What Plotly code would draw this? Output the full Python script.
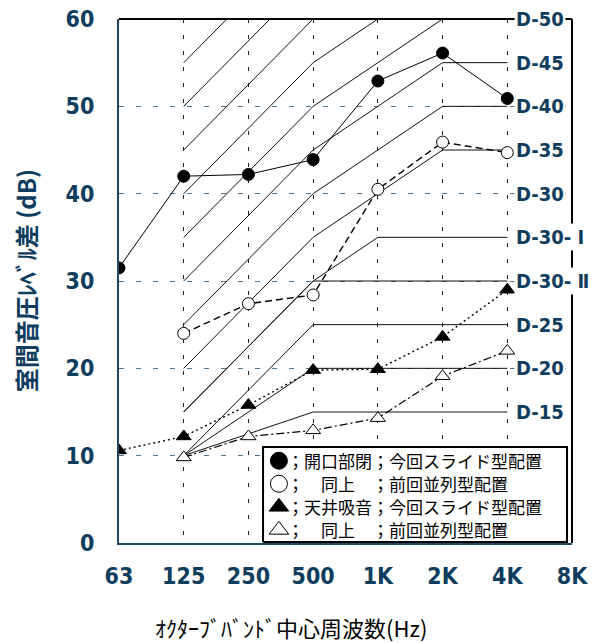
import plotly.graph_objects as go

# Octave-band centre frequencies (category positions 0..7)
FREQ_LABELS = ["63", "125", "250", "500", "1K", "2K", "4K", "8K"]
FREQ_POS = list(range(len(FREQ_LABELS)))

# Measured room-to-room level differences (dB)
open_slide_pos = [0, 1, 2, 3, 4, 5, 6]
open_slide = [31.5, 42.0, 42.2, 43.9, 52.9, 56.1, 50.9]
open_parallel_pos = [1, 2, 3, 4, 5, 6]
open_parallel = [24.0, 27.4, 28.4, 40.5, 45.9, 44.7]
absorb_slide_pos = [0, 1, 2, 3, 4, 5, 6]
absorb_slide = [10.6, 12.2, 15.8, 19.8, 19.9, 23.6, 29.0]
absorb_parallel_pos = [1, 2, 3, 4, 5, 6]
absorb_parallel = [9.8, 12.2, 12.9, 14.3, 19.1, 22.0]

# D rating reference curves: levels at 125, 500, 1K, 2K, 4K
REF_POS = [1, 3, 4, 5, 6]
D70 = [55, 70, 75, 80, 80]
D65 = [50, 65, 70, 75, 75]
D60 = [45, 60, 65, 70, 70]
D55 = [40, 55, 60, 65, 65]
D50 = [35, 50, 55, 60, 60]
D45 = [30, 45, 50, 55, 55]
D40 = [25, 40, 45, 50, 50]
D35 = [20, 35, 40, 45, 45]
D30_I = [15, 30, 35, 35, 35]
D30_II = [15, 30, 30, 30, 30]
D25 = [10, 25, 25, 25, 25]
D20 = [10, 20, 20, 20, 20]
D15 = [10, 15, 15, 15, 15]
REF_CURVES = [D70, D65, D60, D55, D50, D45, D40, D35, D30_I, D30_II, D25, D20, D15]

D_LABELS = ["D-50", "D-45", "D-40", "D-35", "D-30", "D-30- Ⅰ", "D-30- Ⅱ", "D-25", "D-20", "D-15"]
D_LABEL_LEVELS = [60, 55, 50, 45, 40, 35, 30, 25, 20, 15]

LEGEND_TEXT = [
    "；開口部閉；今回スライド型配置",
    "；　同上　；前回並列型配置",
    "；天井吸音；今回スライド型配置",
    "；　同上　；前回並列型配置",
]
# legend box layout, as fractions of the plot area
LEGEND_BOX_X = [0.318, 0.989, 0.989, 0.318, 0.318]
LEGEND_BOX_Y = [0.002, 0.002, 0.183, 0.183, 0.002]
LEGEND_ROW_Y = [0.157, 0.113, 0.069, 0.025]
LEGEND_MARK_X = 0.353
LEGEND_TEXT_X = 0.369

NAVY = "#0f3d5e"
NUM_FONT = "Liberation Sans Narrow, DejaVu Sans Condensed, sans-serif"
JP_FONT = "Noto Sans CJK JP, sans-serif"

fig = go.Figure()

for curve in REF_CURVES:
    fig.add_trace(go.Scatter(
        x=REF_POS, y=curve, mode="lines",
        line=dict(color="#111111", width=1),
        showlegend=False, hoverinfo="skip",
    ))

series = [
    (open_slide_pos, open_slide, "circle", "black", dict(dash="solid", width=1)),
    (open_parallel_pos, open_parallel, "circle", "white", dict(dash="7px,4px", width=1.4)),
    (absorb_slide_pos, absorb_slide, "triangle-up", "black", dict(dash="2px,3px", width=1.4)),
    (absorb_parallel_pos, absorb_parallel, "triangle-up", "white", dict(dash="8px,3px,2px,3px", width=1.2)),
]

for (xs, ys, sym, fill, ln) in series:
    fig.add_trace(go.Scatter(
        x=xs, y=ys, mode="lines+markers",
        line=dict(color="black", **ln),
        marker=dict(symbol=sym, size=13 if "triangle" in sym else 12,
                    color=fill, line=dict(color="black", width=1)),
        showlegend=False,
    ))

# legend box and keys on an overlay frame spanning the plot area (0..1)
fig.add_trace(go.Scatter(
    x=LEGEND_BOX_X, y=LEGEND_BOX_Y, xaxis="x2", yaxis="y2", mode="lines",
    fill="toself", fillcolor="white", line=dict(color="black", width=2),
    showlegend=False, hoverinfo="skip",
))
for (xs, ys, sym, fill, ln), ry in zip(series, LEGEND_ROW_Y):
    fig.add_trace(go.Scatter(
        x=[LEGEND_MARK_X], y=[ry], xaxis="x2", yaxis="y2", mode="markers",
        marker=dict(symbol=sym, size=17, color=fill, line=dict(color="black", width=1)),
        showlegend=False, hoverinfo="skip",
    ))

annotations = []
for txt, lvl in zip(D_LABELS, D_LABEL_LEVELS):
    annotations.append(dict(
        x=6, y=lvl, xref="x", yref="y", text=txt, showarrow=False,
        xanchor="left", yanchor="middle", xshift=7,
        font=dict(family=NUM_FONT, size=20, color=NAVY, weight="bold"),
        bgcolor="white", borderpad=1,
    ))

for txt, ry in zip(LEGEND_TEXT, LEGEND_ROW_Y):
    annotations.append(dict(
        x=LEGEND_TEXT_X, y=ry, xref="x domain", yref="y domain", text=txt,
        showarrow=False, xanchor="left", yanchor="middle", borderpad=0,
        font=dict(family=JP_FONT, size=17, color="black"),
    ))

annotations.append(dict(
    x=-0.207, y=0.5, xref="paper", yref="paper", text="室間音圧ﾚﾍﾞﾙ差 (dB)",
    textangle=-90, showarrow=False, xanchor="center", yanchor="middle",
    font=dict(family=JP_FONT, size=24, color=NAVY, weight="bold"),
))
annotations.append(dict(
    x=0.38, y=-0.160, xref="paper", yref="paper", text="ｵｸﾀｰﾌﾞﾊﾞﾝﾄﾞ中心周波数(Hz)",
    showarrow=False, xanchor="center", yanchor="middle",
    font=dict(family=JP_FONT, size=22, color="black"),
))

shapes = [
    dict(type="line", xref="paper", yref="paper", x0=0, x1=1, y0=1, y1=1,
         line=dict(color="black", width=2), layer="above"),
    dict(type="line", xref="paper", yref="paper", x0=1, x1=1, y0=0, y1=1,
         line=dict(color="black", width=2), layer="above"),
]

fig.update_layout(
    width=594, height=643,
    margin=dict(l=119, r=22, t=19, b=100, autoexpand=False),
    plot_bgcolor="white", paper_bgcolor="white",
    annotations=annotations, shapes=shapes, showlegend=False,
    xaxis=dict(
        range=[0, 7], tickvals=FREQ_POS, ticktext=FREQ_LABELS, automargin=False,
        showgrid=True, gridcolor="#222222", griddash="4px,12px", gridwidth=1.2,
        zeroline=False, showline=True, linecolor="#1f4866", linewidth=2,
        ticks="outside", ticklen=11, tickcolor="rgba(0,0,0,0)",
        tickfont=dict(family=NUM_FONT, size=23, color=NAVY, weight="bold"),
    ),
    yaxis=dict(
        range=[0, 60], tickvals=[0, 10, 20, 30, 40, 50, 60], automargin=False,
        showgrid=True, gridcolor="#4d7592", griddash="5px,12px", gridwidth=1.2,
        zeroline=False, showline=True, linecolor="#1f4866", linewidth=2,
        ticks="outside", ticklen=18, tickcolor="rgba(0,0,0,0)",
        tickfont=dict(family=NUM_FONT, size=23, color=NAVY, weight="bold"),
    ),
    xaxis2=dict(overlaying="x", range=[0, 1], visible=False, fixedrange=True),
    yaxis2=dict(overlaying="y", range=[0, 1], visible=False, fixedrange=True),
)

fig.write_html("out.html")
